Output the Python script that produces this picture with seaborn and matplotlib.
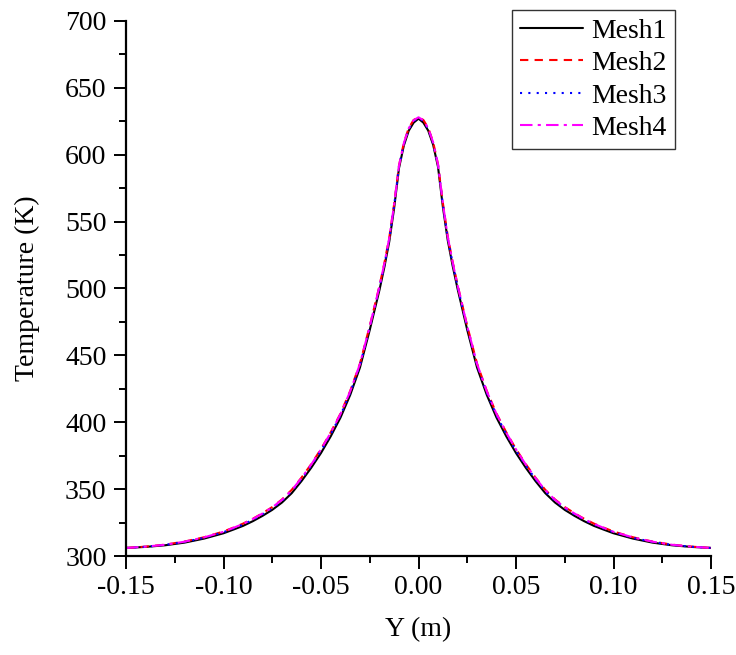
import matplotlib
matplotlib.use("Agg")
import matplotlib.pyplot as plt
from matplotlib.ticker import MultipleLocator, FormatStrFormatter
import seaborn as sns

# positions along Y (m)
y_pos = [-0.15, -0.14, -0.13, -0.12, -0.11, -0.10, -0.095, -0.09, -0.085, -0.08,
         -0.075, -0.07, -0.065, -0.06, -0.055, -0.05, -0.045, -0.04, -0.035, -0.03,
         -0.025, -0.02, -0.0175, -0.015, -0.0125, -0.01, -0.0075, -0.005, -0.0025, 0.0,
         0.0025, 0.005, 0.0075, 0.01, 0.0125, 0.015, 0.0175, 0.02, 0.025, 0.03,
         0.035, 0.04, 0.045, 0.05, 0.055, 0.06, 0.065, 0.07, 0.075, 0.08,
         0.085, 0.09, 0.095, 0.10, 0.11, 0.12, 0.13, 0.14, 0.15]

# temperature (K) for each mesh
mesh1 = [306.0, 306.8, 308.0, 310.0, 313.0, 317.0, 319.7, 322.5, 326.0, 330.0,
         334.5, 340.0, 347.0, 356.0, 366.0, 377.0, 389.5, 403.5, 420.5, 441.0,
         469.0, 499.0, 516.0, 535.0, 560.0, 590.0, 607.0, 618.0, 624.0, 627.0,
         624.0, 618.0, 607.5, 591.0, 561.0, 536.0, 517.0, 500.0, 469.0, 441.0,
         420.5, 403.5, 389.5, 377.0, 366.0, 356.0, 347.0, 340.0, 334.5, 330.0,
         326.0, 322.5, 319.7, 317.0, 313.0, 310.0, 308.0, 306.8, 306.0]
mesh2 = [306.0, 307.0, 308.5, 310.8, 314.0, 318.3, 321.2, 324.2, 327.8, 332.0,
         336.6, 342.3, 349.5, 358.6, 368.7, 380.0, 392.5, 406.5, 423.5, 444.0,
         472.0, 502.0, 519.0, 538.0, 563.0, 592.0, 609.0, 620.0, 626.0, 628.0,
         626.0, 620.0, 609.5, 593.0, 564.0, 539.0, 520.0, 503.0, 472.0, 444.0,
         423.5, 406.5, 392.5, 380.0, 368.7, 358.6, 349.5, 342.3, 336.6, 332.0,
         327.8, 324.2, 321.2, 318.3, 314.0, 310.8, 308.5, 307.0, 306.0]
mesh3 = [306.0, 306.9, 308.3, 310.5, 313.6, 317.8, 320.6, 323.5, 327.0, 331.2,
         335.7, 341.3, 348.5, 357.5, 367.6, 378.8, 391.2, 405.2, 422.2, 442.8,
         470.8, 500.8, 517.8, 536.8, 561.8, 591.2, 608.2, 619.2, 625.2, 627.6,
         625.2, 619.2, 608.7, 592.2, 562.8, 537.8, 518.8, 501.8, 470.8, 442.8,
         422.2, 405.2, 391.2, 378.8, 367.6, 357.5, 348.5, 341.3, 335.7, 331.2,
         327.0, 323.5, 320.6, 317.8, 313.6, 310.5, 308.3, 306.9, 306.0]
mesh4 = [306.0, 307.0, 308.4, 310.7, 313.9, 318.1, 321.0, 324.0, 327.6, 331.8,
         336.4, 342.0, 349.2, 358.3, 368.4, 379.7, 392.2, 406.2, 423.2, 443.7,
         471.7, 501.7, 518.7, 537.7, 562.7, 591.8, 608.8, 619.8, 625.8, 628.0,
         625.8, 619.8, 609.3, 592.8, 563.7, 538.7, 519.7, 502.7, 471.7, 443.7,
         423.2, 406.2, 392.2, 379.7, 368.4, 358.3, 349.2, 342.0, 336.4, 331.8,
         327.6, 324.0, 321.0, 318.1, 313.9, 310.7, 308.4, 307.0, 306.0]

series = [("Mesh1", mesh1, "black", "-"),
          ("Mesh2", mesh2, "red", (0, (4, 3))),
          ("Mesh3", mesh3, "blue", (0, (1, 3))),
          ("Mesh4", mesh4, "magenta", (0, (6, 2.5, 1.5, 2.5)))]

sns.set_style("ticks", {"axes.edgecolor": "black", "xtick.color": "black",
                        "ytick.color": "black", "text.color": "black",
                        "axes.labelcolor": "black"})
plt.rcParams["font.family"] = ["Liberation Serif", "DejaVu Serif"]

fig = plt.figure(figsize=(7.36, 6.55), dpi=100)
ax = fig.add_axes([126 / 736, 1 - 556 / 655, 585 / 736, 535 / 655])

for name, vals, col, ls in series:
    sns.lineplot(x=y_pos, y=vals, color=col, linestyle=ls, linewidth=1.5,
                 label=name, ax=ax, sort=False)

ax.set_xlim(-0.15, 0.15)
ax.set_ylim(300, 700)
ax.xaxis.set_major_locator(MultipleLocator(0.05))
ax.xaxis.set_minor_locator(MultipleLocator(0.025))
ax.xaxis.set_major_formatter(FormatStrFormatter("%.2f"))
ax.yaxis.set_major_locator(MultipleLocator(50))
ax.yaxis.set_minor_locator(MultipleLocator(25))

sns.despine(ax=ax)
for s in ["left", "bottom"]:
    ax.spines[s].set_linewidth(1.6)
ax.tick_params(which="major", direction="out", length=9, width=1.4,
               labelsize=20, pad=5, colors="black")
ax.tick_params(which="minor", direction="out", length=5, width=1.4,
               colors="black")

ax.set_xlabel("Y (m)", fontsize=20, labelpad=12)
ax.set_ylabel("Temperature (K)", fontsize=20, labelpad=18)

leg = ax.legend(loc="upper right", bbox_to_anchor=(675 / 736, 1 - 10 / 655),
                bbox_transform=fig.transFigure, borderaxespad=0, fontsize=20,
                frameon=True, fancybox=False, handlelength=2.25,
                handletextpad=0.3, labelspacing=0.25, borderpad=0.3)
leg.get_frame().set_edgecolor("black")
leg.get_frame().set_linewidth(1.0)

fig.savefig("out.png", dpi=100)
